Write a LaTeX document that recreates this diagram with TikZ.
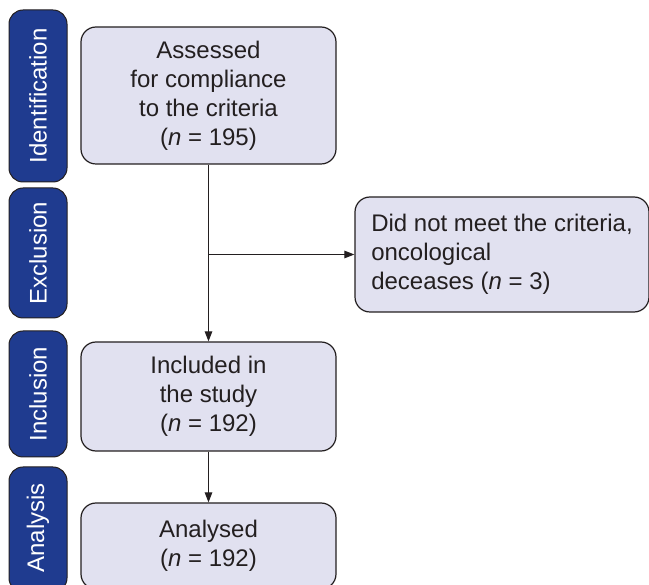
\documentclass[tikz,border=0pt]{standalone}
\usepackage{fontspec}
\setmainfont{Liberation Sans}
\usetikzlibrary{arrows.meta}
\definecolor{barblue}{RGB}{31,59,143}
\definecolor{boxfill}{RGB}{225,225,240}
\definecolor{inkgray}{RGB}{35,31,32}
\tikzset{
	stage/.style={draw=inkgray, fill=barblue, rounded corners=14pt, line width=1pt, minimum width=58pt, text=white, font=\fontsize{24}{28}\selectfont},
	stagetext/.style={rotate=90, text=white, font=\fontsize{24}{28}\selectfont},
	stepbox/.style={draw=inkgray, fill=boxfill, rounded corners=15pt, line width=1.2pt, text=inkgray, align=center, font=\fontsize{24}{29}\selectfont},
	flow/.style={-{Triangle[length=10pt,width=7.5pt]}, line width=1.1pt, draw=inkgray}
}

\begin{document}
\begin{tikzpicture}[x=1pt, y=-1pt]
		%%%%% START %%%%%
		\useasboundingbox (0, 0) rectangle (649, 585);
		
		\node[stage, minimum height=172pt] (ident) at (38, 96) {};
		\node[stagetext] at (ident.center) {Identification};
		\node[stage, minimum height=130pt] (excl) at (38, 253) {};
		\node[stagetext] at (excl.center) {Exclusion};
		\node[stage, minimum height=126pt] (incl) at (38, 394) {};
		\node[stagetext] at (incl.center) {Inclusion};
		\node[stage, minimum height=125pt] (anal) at (38, 529.5) {};
		\node[stagetext] at (38, 528) {Analysis};
		
		\node[stepbox, minimum width=255pt, minimum height=137pt] (assessed) at (208.5, 95.5) {Assessed\\for compliance\\to the criteria\\(\textit{n} = 195)};
		\node[stepbox, minimum width=294pt, minimum height=115pt, align=left] (excluded) at (502, 254.5) {Did not meet the criteria,\\oncological\\deceases (\textit{n} = 3)};
		\node[stepbox, minimum width=255pt, minimum height=109pt] (included) at (208.5, 396.5) {Included in\\the study\\(\textit{n} = 192)};
		\node[stepbox, minimum width=255pt, minimum height=86pt] (analysed) at (208.5, 546) {Analysed\\(\textit{n} = 192)};
		
		\draw[flow] (assessed) -- (included);
		\draw[flow] (assessed.south |- excluded.west) -- (excluded.west);
		\draw[flow] (included) -- (analysed);
		
		%%%%% END %%%%%
	\end{tikzpicture}
\end{document}
